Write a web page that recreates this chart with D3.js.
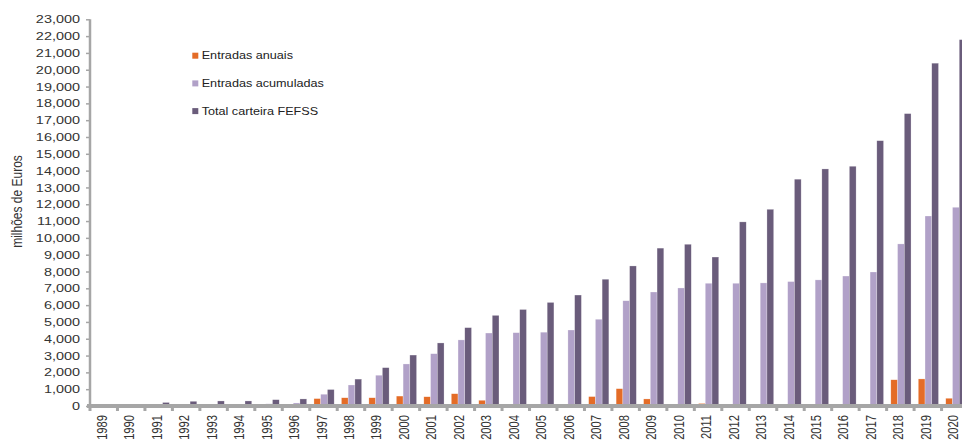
<!DOCTYPE html>
<html>
<head>
<meta charset="utf-8">
<script src="https://cdn.jsdelivr.net/npm/d3@7/dist/d3.min.js"></script>
<style>
  body { margin: 0; background: #fff; }
  svg { display: block; font-family: "Liberation Sans", Arial, sans-serif; }
</style>
</head>
<body>
<svg id="chart" width="962" height="443"></svg>
<script>
/**
 * FEFSS: entradas anuais, acumuladas e total da carteira (milhões de Euros).
 */

// Globals.
var WIDTH = 962;
var HEIGHT = 443;
var AXIS_X = 90;      // y axis line
var Y_TOP = 19.3;     // pixel of the 23,000 tick
var Y_ZERO = 406;     // pixel of the 0 tick
var BAND = 27.47;     // width of one year
var STRETCH = 1.29;   // the source picture is stretched sideways
var AXIS_GREY = '#a6a6a6';
var TEXT_COLOR = '#333';
var COLORS = ['#e46c27', '#b1a1c8', '#6a5c7b'];

// Data.
var years = ['1989', '1990', '1991', '1992', '1993', '1994', '1995', '1996',
  '1997', '1998', '1999', '2000', '2001', '2002', '2003', '2004', '2005',
  '2006', '2007', '2008', '2009', '2010', '2011', '2012', '2013', '2014',
  '2015', '2016', '2017', '2018', '2019', '2020'];
var seriesNames = ['Entradas anuais', 'Entradas acumuladas', 'Total carteira FEFSS'];
var entradasAnuais = [0, 0, 0, 0, 0, 0, 0, 0,
  440, 490, 490, 590, 550, 730, 340, 0, 0,
  0, 560, 1030, 420, 20, 150, 0, 0, 0,
  20, 30, 80, 1560, 1610, 460];
var entradasAcumuladas = [0, 30, 60, 90, 100, 100, 130, 180,
  700, 1250, 1830, 2500, 3110, 3930, 4340, 4360, 4390,
  4520, 5160, 6260, 6780, 7020, 7300, 7300, 7320, 7400,
  7500, 7730, 7970, 9640, 11300, 11820];
var totalCarteira = [0, 90, 210, 280, 300, 300, 375, 420,
  980, 1600, 2280, 3030, 3750, 4660, 5390, 5740, 6160,
  6600, 7540, 8330, 9390, 9620, 8860, 10950, 11700, 13490,
  14100, 14260, 15780, 17390, 20390, 21790];
var yTicks = [0, 1000, 2000, 3000, 4000, 5000, 6000, 7000, 8000, 9000, 10000,
  11000, 12000, 13000, 14000, 15000, 16000, 17000, 18000, 19000, 20000,
  21000, 22000, 23000];

var series = [entradasAnuais, entradasAcumuladas, totalCarteira];

var svg = d3.select('#chart');

// Scales.
var x = d3.scaleBand()
  .domain(years)
  .range([AXIS_X, AXIS_X + BAND * years.length])
  .padding(0);
var xInner = d3.scaleBand()
  .domain([0, 1, 2])
  .range([4.2, 24.4])
  .padding(0);
var y = d3.scaleLinear()
  .domain([0, 23000])
  .range([Y_ZERO, Y_TOP]);

/**
 * Bars, one group per year.
 */
var groups = svg.append('g').selectAll('g')
  .data(years)
  .enter()
  .append('g')
  .attr('transform', function(d) { return 'translate(' + x(d) + ',0)'; });

groups.selectAll('rect')
  .data(function(d, i) {
    return series.map(function(s, k) { return {k: k, v: s[i]}; });
  })
  .enter()
  .append('rect')
  .attr('x', function(d) { return xInner(d.k); })
  .attr('width', xInner.bandwidth())
  .attr('y', function(d) { return y(d.v); })
  .attr('height', function(d) { return Y_ZERO - y(d.v); })
  .attr('fill', function(d) { return COLORS[d.k]; })
  .attr('stroke', '#fff')
  .attr('stroke-opacity', 0.5)
  .attr('stroke-width', 0.5);

/**
 * Y axis.
 */
var yAxis = svg.append('g')
  .attr('transform', 'translate(' + AXIS_X + ',0)')
  .call(d3.axisLeft(y).tickValues(yTicks).tickSize(4).tickFormat(d3.format(',')));
yAxis.select('.domain').remove();
yAxis.selectAll('.tick line')
  .attr('stroke', AXIS_GREY)
  .attr('stroke-width', 1.5);
yAxis.selectAll('.tick text')
  .attr('x', 0)
  .attr('transform', 'translate(-10,0) scale(' + STRETCH + ',1)')
  .attr('fill', TEXT_COLOR)
  .attr('font-size', 11.2);
svg.append('line')
  .attr('x1', AXIS_X).attr('x2', AXIS_X)
  .attr('y1', Y_TOP).attr('y2', Y_ZERO)
  .attr('stroke', AXIS_GREY)
  .attr('stroke-width', 2.5);

/**
 * X axis: year labels, ticks between the years, thick base line.
 */
var xAxis = svg.append('g')
  .attr('transform', 'translate(0,' + Y_ZERO + ')')
  .call(d3.axisBottom(x).tickSize(0));
xAxis.select('.domain').remove();
xAxis.selectAll('.tick text')
  .attr('x', -9)
  .attr('y', 0)
  .attr('dy', '0.35em')
  .attr('text-anchor', 'end')
  .attr('transform', 'translate(-2,0) scale(' + STRETCH + ',1) rotate(-90)')
  .attr('fill', TEXT_COLOR)
  .attr('font-size', 11.2);

var bounds = years.map(function(d) { return x(d); });
svg.append('g').selectAll('rect')
  .data(bounds)
  .enter()
  .append('rect')
  .attr('x', function(d) { return d - 1.5; })
  .attr('y', Y_ZERO)
  .attr('width', 3)
  .attr('height', 5)
  .attr('fill', AXIS_GREY);
svg.append('line')
  .attr('x1', AXIS_X - 3).attr('x2', WIDTH)
  .attr('y1', Y_ZERO).attr('y2', Y_ZERO)
  .attr('stroke', AXIS_GREY)
  .attr('stroke-width', 4);

/**
 * Axis title.
 */
svg.append('text')
  .attr('transform', 'translate(17,' + 201.5 + ') scale(' + STRETCH + ',1) rotate(-90)')
  .attr('text-anchor', 'middle')
  .attr('dy', '0.35em')
  .attr('fill', TEXT_COLOR)
  .attr('font-size', 12)
  .text('milhões de Euros');

/**
 * Legend.
 */
var legend = svg.append('g').selectAll('g')
  .data(seriesNames)
  .enter()
  .append('g')
  .attr('transform', function(d, i) { return 'translate(192.3,' + (55.7 + i * 27.7) + ')'; });
legend.append('rect')
  .attr('x', 0).attr('y', -3)
  .attr('width', 6).attr('height', 6)
  .attr('fill', function(d, i) { return COLORS[i]; });
legend.append('text')
  .attr('transform', 'translate(9.4,0) scale(1.24,1)')
  .attr('dy', '0.35em')
  .attr('fill', '#222')
  .attr('font-size', 10.2)
  .text(function(d) { return d; });
</script>
</body>
</html>
